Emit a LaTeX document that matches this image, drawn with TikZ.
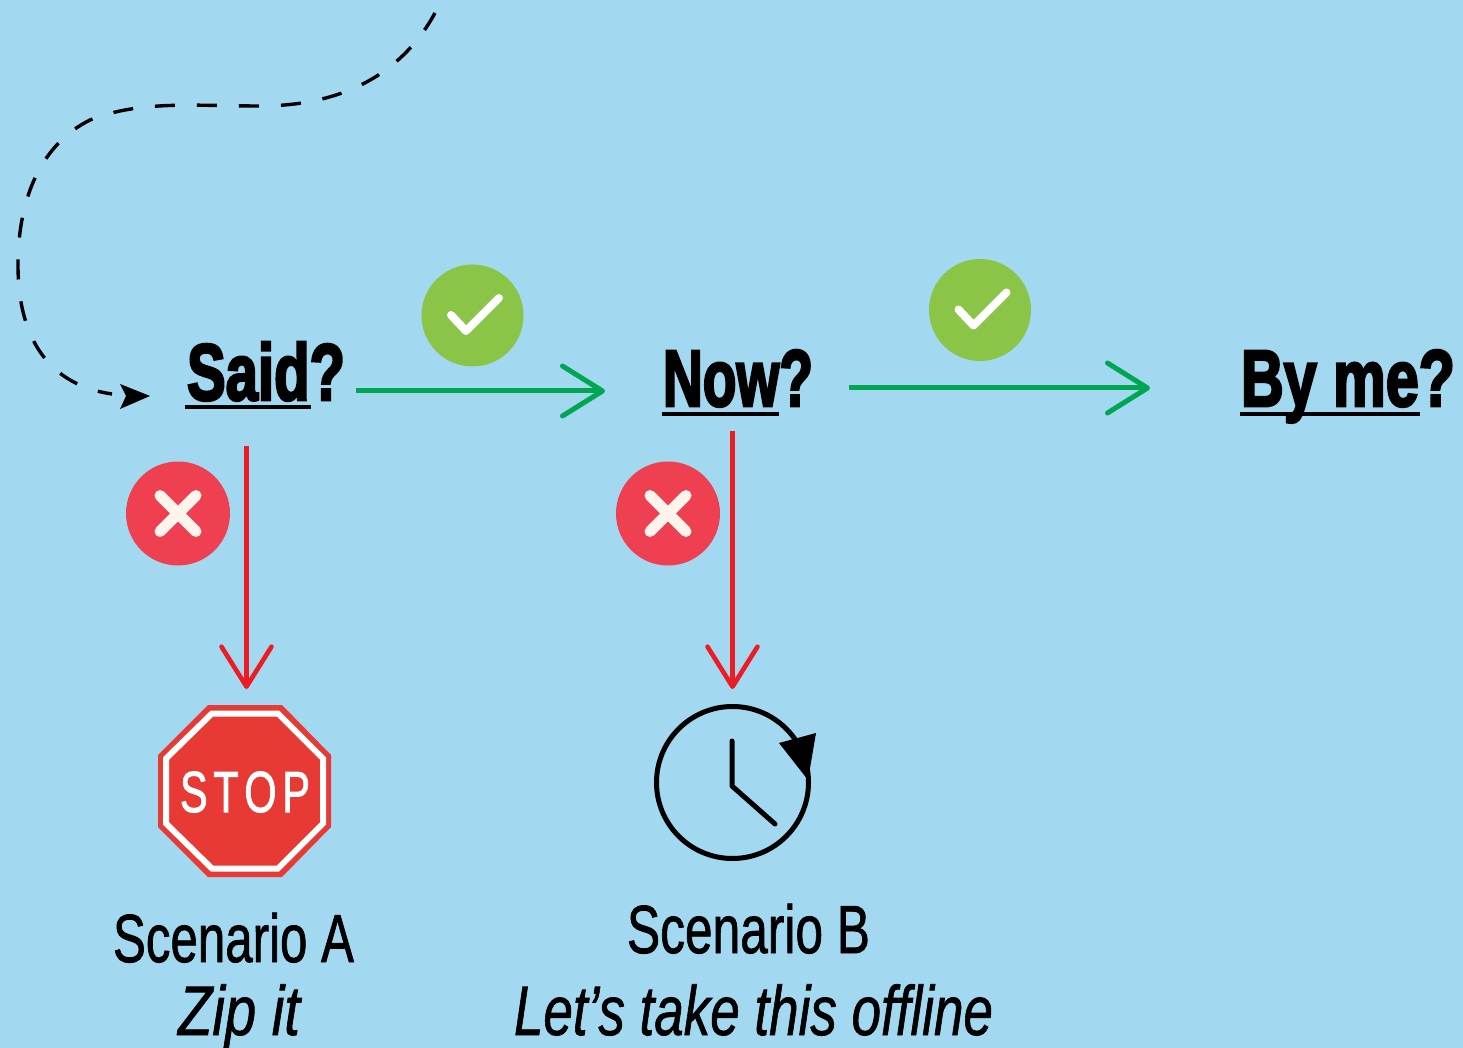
\documentclass[tikz,border=0pt]{standalone}
\usepackage{graphicx}
\usepackage{fontspec}
\usetikzlibrary{arrows.meta}
\setmainfont{Liberation Sans}
\newfontfamily\labelfont[FakeBold=3.6]{Liberation Sans Bold}
\newfontfamily\regfont[FakeBold=1.3]{Liberation Sans}
\newfontfamily\itfont[FakeBold=1.1]{Liberation Sans Italic}
\newfontfamily\stopfont[FakeBold=1.8]{Liberation Sans}
\newcommand{\fitw}[2]{\resizebox{#1pt}{\height}{#2}}
\definecolor{bgblue}{HTML}{A3D8F1}
\definecolor{okgreen}{HTML}{8AC547}
\definecolor{nored}{HTML}{EE4050}
\definecolor{arrowgreen}{HTML}{00A651}
\definecolor{arrowred}{HTML}{ED1C24}
\definecolor{stopred}{HTML}{E83A35}
\definecolor{crosswhite}{HTML}{FFF4EC}
\tikzset{
  txt/.style={inner sep=0pt,outer sep=0pt,anchor=base west,text=black},
  question/.style={txt,font=\labelfont\fontsize{40}{48}\selectfont},
  scen/.style={txt,font=\regfont\fontsize{34}{40}\selectfont},
  scenit/.style={txt,font=\itfont\fontsize{35}{40}\selectfont},
  uline/.style={draw=black,line width=1.8pt},
  badge/.style={circle,inner sep=0pt,outer sep=0pt,minimum size=51pt},
  yes/.style={badge,fill=okgreen},
  no/.style={badge,fill=nored,minimum size=52pt},
  mark yes/.style={draw=white,line width=4pt,line cap=round,line join=round},
  mark no/.style={draw=crosswhite,line width=5.5pt,line cap=round},
  goarrow/.style={draw=arrowgreen,line width=2.5pt,-{Straight Barb[length=20pt,width=25pt,round]}},
  noarrow/.style={draw=arrowred,line width=2.3pt,-{Straight Barb[length=20pt,width=25pt,round]}},
  dashpath/.style={draw=black,line width=1.7pt,dash pattern=on 10pt off 11pt},
  clockline/.style={draw=black,line width=2.5pt,line cap=round,line join=round}
}
\begin{document}
\begin{tikzpicture}[x=0.5pt,y=-0.5pt]
\fill[bgblue] (0,0) rectangle (1463,1048);
\useasboundingbox (0,0) rectangle (1463,1048);

% question labels
\node[question] (said) at (187,400) {\fitw{79}{Said?}};
\node[question] (now) at (663,406) {\fitw{75}{Now?}};
\node[question] (byme) at (1241,406) {\fitw{107}{By me?}};
\draw[uline] (185,407) -- (311,407);
\draw[uline] (662,414) -- (779,414);
\draw[uline] (1240,414) -- (1420,414);

% dashed entry
\coordinate (dstart) at (435,13);
\coordinate (dend) at (112,394);
\node[inner sep=0pt] (saidin) at (150,396) {};
\draw[dashpath] (dstart) .. controls (405,68) and (350,106) .. (260,106)
  .. controls (195,106) and (140,100) .. (90,120)
  .. controls (40,145) and (18,200) .. (18,265)
  .. controls (18,340) and (50,385) .. (dend);
\fill[black] (saidin.center) -- (120,384) -- (126,396) -- (120,409) -- cycle;

% green arrows
\coordinate (g1s) at (356,391);
\coordinate (g1e) at (605,391);
\coordinate (g2s) at (849,388);
\coordinate (g2e) at (1150,388);
\draw[goarrow] (g1s) -- (g1e);
\draw[goarrow] (g2s) -- (g2e);

% red arrows
\coordinate (r1s) at (246.5,446);
\coordinate (r1e) at (246.5,689);
\coordinate (r2s) at (732.5,431);
\coordinate (r2e) at (732.5,689);
\draw[noarrow] (r1s) -- (r1e);
\draw[noarrow] (r2s) -- (r2e);

% check badges
\node[yes] (ok1) at (472.5,315.5) {};
\node[yes] (ok2) at (980,310) {};
\draw[mark yes] (451,315) -- (466,331) -- (499,298);
\draw[mark yes] (958.5,309.5) -- (973.5,325.5) -- (1006.5,292.5);

% cross badges
\node[no] (no1) at (178,513.5) {};
\node[no] (no2) at (668,513.5) {};
\draw[mark no] (160,495.5) -- (196,531.5) (196,495.5) -- (160,531.5);
\draw[mark no] (650,495.5) -- (686,531.5) (686,495.5) -- (650,531.5);

% stop sign
\fill[stopred] (208,705) -- (282,705) -- (331,755) -- (331,827) -- (282,877)
  -- (208,877) -- (158,827) -- (158,755) -- cycle;
\draw[white,line width=3pt,line join=miter] (212,713.5) -- (278,713.5) -- (323,758.5) -- (323,823.5)
  -- (278,868.5) -- (212,868.5) -- (166,823.5) -- (166,758.5) -- cycle;
\node[txt,font=\stopfont\fontsize{29}{34}\selectfont,text=white] (stop) at (180,812) {\fitw{65}{S\kern4pt T\kern4pt O\kern4pt P}};

% clock
\draw[clockline] (732.5,782.5) circle[radius=76];
\draw[clockline] (732,741) -- (732,786) -- (775,824);
\fill[black] (779,743) -- (816,733) -- (808,780) -- cycle;

% captions
\node[scen] (sa) at (113,962) {\fitw{120.5}{Scenario A}};
\node[scenit] (za) at (178,1035) {\fitw{61}{Zip it}};
\node[scen] (sb) at (627,953) {\fitw{121.5}{Scenario B}};
\node[scenit] (zb) at (514,1035) {\fitw{239.5}{Let’s take this offline}};
\end{tikzpicture}
\end{document}
